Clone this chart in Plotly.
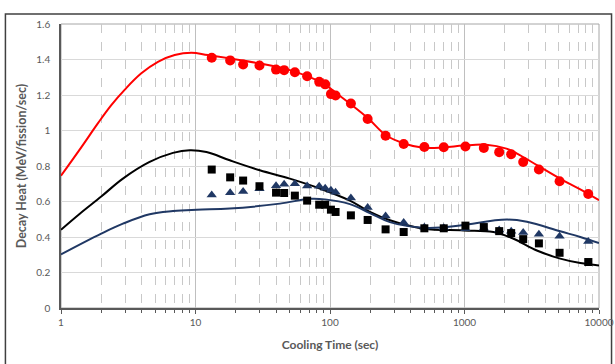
import plotly.graph_objects as go

# ---- data ----
t_meas = [13.2, 18.1, 22.6, 29.9, 39.7, 45.6, 54.8, 67.6, 83.1, 92.1, 101.6, 110, 143, 190.5,
          259, 353, 503, 701, 1016, 1392, 1811, 2223, 2731, 3574, 5092, 8318]
red_pts = [1.41, 1.395, 1.372, 1.366, 1.343, 1.340, 1.328, 1.306, 1.274, 1.260, 1.205, 1.197, 1.152, 1.065,
           0.970, 0.924, 0.907, 0.906, 0.910, 0.902, 0.878, 0.866, 0.823, 0.780, 0.714, 0.642]
black_pts = [0.780, 0.736, 0.718, 0.686, 0.650, 0.648, 0.633, 0.605, 0.582, 0.582, 0.554, 0.541, 0.522, 0.496,
             0.443, 0.428, 0.449, 0.449, 0.464, 0.456, 0.433, 0.422, 0.388, 0.364, 0.311, 0.259]
tri_pts = [0.637, 0.649, 0.657, 0.672, 0.689, 0.697, 0.700, 0.687, 0.686, 0.675, 0.664, 0.652, 0.620, 0.566,
           0.518, 0.482, 0.455, 0.452, 0.447, 0.450, 0.440, 0.432, 0.426, 0.415, 0.404, 0.375]

t_red = [1.0, 1.414, 1.879, 2.365, 2.971, 3.956, 5.258, 7.0, 9.32, 12.4, 28.4, 50.3, 89, 112, 140.6, 192.5,
         260.9, 354.8, 494, 701, 981, 1450, 2050, 2460, 3453, 5150, 7261, 10000]
red_line = [0.745, 0.905, 1.04, 1.143, 1.229, 1.322, 1.387, 1.425, 1.438, 1.425, 1.381, 1.340, 1.265, 1.209,
            1.152, 1.068, 0.973, 0.927, 0.903, 0.905, 0.915, 0.920, 0.898, 0.870, 0.805, 0.728, 0.668, 0.607]

t_black = [1.0, 1.373, 1.992, 2.886, 4.56, 6.80, 9.05, 12.06, 17.98, 30.06, 50.3, 84.1, 140.6, 198, 279,
           494, 981, 1641, 2313, 3453, 5150, 7261, 10000]
black_line = [0.441, 0.530, 0.628, 0.729, 0.823, 0.874, 0.889, 0.879, 0.832, 0.776, 0.729, 0.673, 0.605,
              0.541, 0.494, 0.447, 0.437, 0.428, 0.390, 0.324, 0.278, 0.253, 0.240]

t_blue = [1.0, 1.992, 2.886, 4.56, 6.80, 10.2, 17.98, 42.4, 70.8, 91.6, 140.6, 198, 279, 494, 701, 981,
          2065, 2911, 5150, 7261, 10000]
blue_line = [0.302, 0.419, 0.475, 0.528, 0.546, 0.554, 0.560, 0.588, 0.615, 0.612, 0.585, 0.535, 0.484,
             0.452, 0.455, 0.468, 0.498, 0.486, 0.432, 0.400, 0.366]

x_ticks = [1, 10, 100, 1000, 10000]
x_minor = [m * d for d in [1, 10, 100, 1000] for m in range(2, 10)]
y_ticks = [0, 0.2, 0.4, 0.6, 0.8, 1.0, 1.2, 1.4, 1.6]
y_labels = ["0", "0.2", "0.4", "0.6", "0.8", "1", "1.2", "1.4", "1.6"]

RED = "#ff0000"
NAVY = "#203864"
GRAY = "#595959"

fig = go.Figure()
fig.add_trace(go.Scatter(x=t_red, y=red_line, mode="lines", line=dict(color=RED, width=2, shape="spline", smoothing=1.1)))
fig.add_trace(go.Scatter(x=t_black, y=black_line, mode="lines", line=dict(color="#000000", width=2, shape="spline", smoothing=1.1)))
fig.add_trace(go.Scatter(x=t_blue, y=blue_line, mode="lines", line=dict(color=NAVY, width=2, shape="spline", smoothing=1.1)))
fig.add_trace(go.Scatter(x=t_meas, y=tri_pts, mode="markers",
                         marker=dict(symbol="triangle-up", size=9, color=NAVY)))
fig.add_trace(go.Scatter(x=t_meas, y=black_pts, mode="markers",
                         marker=dict(symbol="square", size=8, color="#000000")))
fig.add_trace(go.Scatter(x=t_meas, y=red_pts, mode="markers",
                         marker=dict(symbol="circle", size=10, color=RED)))

font = "Lato, 'Open Sans', sans-serif"
fig.update_layout(
    width=615, height=364,
    margin=dict(l=61, r=16, t=24, b=56),
    paper_bgcolor="white", plot_bgcolor="white",
    showlegend=False,
    font=dict(family=font, color=GRAY, size=10),
    xaxis=dict(
        type="log", range=[0, 4], automargin=False,
        tickvals=x_ticks, ticktext=[str(v) for v in x_ticks],
        showgrid=True, gridcolor="#bfbfbf", gridwidth=1,
        minor=dict(tickvals=x_minor, showgrid=True, gridcolor="#c8c8c8", griddash="dash", gridwidth=1,
                   ticks="outside", ticklen=3, tickcolor=GRAY),
        ticks="outside", ticklen=4, tickcolor=GRAY,
        showline=True, linecolor=GRAY, linewidth=1.5,
        zeroline=False,
        title=dict(text="<b>Cooling Time (sec)</b>", font=dict(size=12, color=GRAY, family=font), standoff=14),
        tickfont=dict(size=10, color=GRAY),
    ),
    yaxis=dict(
        range=[0, 1.6], automargin=False,
        tickvals=y_ticks, ticktext=y_labels,
        showgrid=True, gridcolor="#d9d9d9", gridwidth=1,
        showline=True, linecolor=GRAY, linewidth=1.5,
        zeroline=False, ticks="",
        ticklabelstandoff=7,
        title=dict(text="<b>Decay Heat (MeV/fission/sec)</b>", font=dict(size=12.5, color=GRAY, family=font), standoff=7),
        tickfont=dict(size=10, color=GRAY),
    ),
    shapes=[
        dict(type="rect", xref="paper", yref="paper", x0=0, x1=1, y0=0, y1=1,
             line=dict(color="#a6a6a6", width=1), layer="below"),
        dict(type="rect", xref="paper", yref="paper", x0=-0.1033, x1=1.0233, y0=-0.3, y1=1.0349,
             line=dict(color="#404040", width=1.5), layer="below"),
    ],
)

fig.write_html("out.html")
